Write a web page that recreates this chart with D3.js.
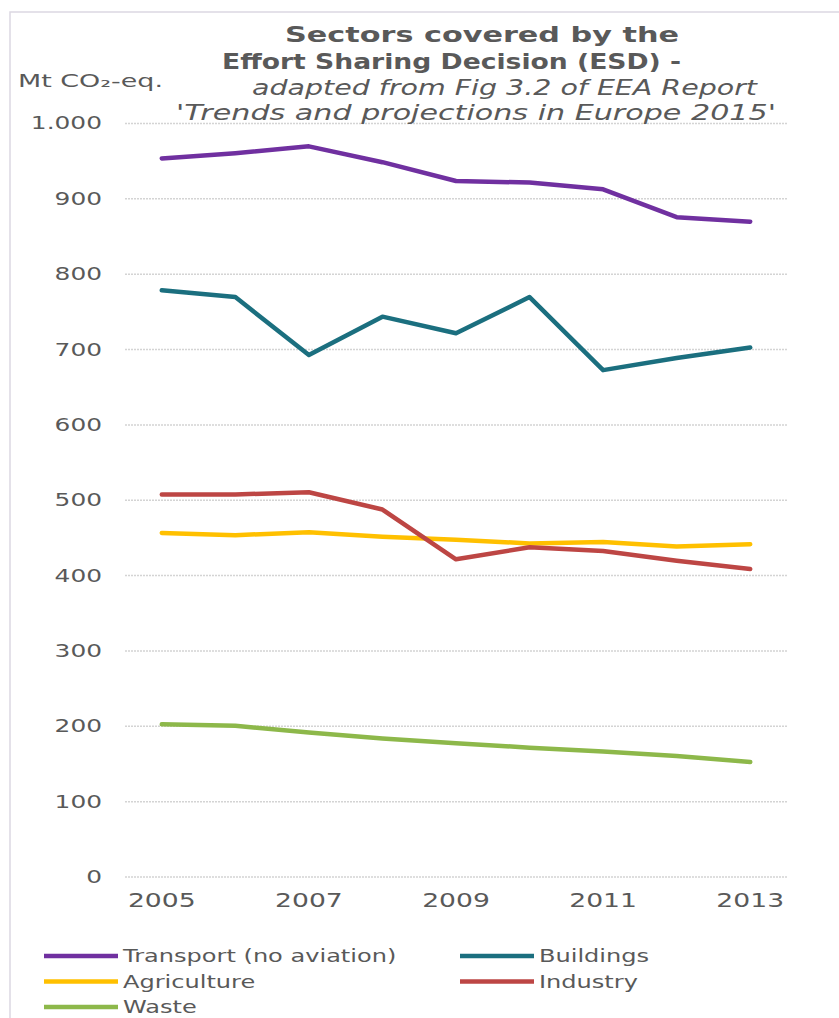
<!DOCTYPE html>
<html>
<head>
<meta charset="utf-8">
<script src="https://cdn.jsdelivr.net/npm/d3@7"></script>
<style>
  body { margin: 0; background: #fff; }
  text { font-family: "DejaVu Sans", Verdana, sans-serif; fill: #595959; }
</style>
</head>
<body>
<svg id="chart" width="839" height="1018"></svg>
<script>
// values, Mt CO2-eq.
const years = [2005, 2006, 2007, 2008, 2009, 2010, 2011, 2012, 2013];
const transport   = [953, 960, 969, 948, 923, 921, 912, 875, 869];
const buildings   = [778, 769, 692, 743, 721, 769, 672, 688, 702];
const agriculture = [456, 453, 457, 451, 447, 442, 444, 438, 441];
const industry    = [507, 507, 510, 487, 421, 437, 432, 419, 408];
const waste       = [202, 200, 191, 183, 177, 171, 166, 160, 152];

const seriesNames  = ["Transport (no aviation)", "Buildings", "Agriculture", "Industry", "Waste"];
const seriesValues = [transport, buildings, agriculture, industry, waste];
const seriesColors = ["#7030a0", "#1b6f7f", "#ffc000", "#bd4644", "#8db84a"];

const yTicks = [0, 100, 200, 300, 400, 500, 600, 700, 800, 900, 1000];
const xLabelYears = [2005, 2007, 2009, 2011, 2013];

const titleLines = [
  "Sectors covered by the",
  "Effort Sharing Decision (ESD) -",
  "adapted from Fig 3.2 of EEA Report",
  "'Trends and projections in Europe 2015'"
];
// where each title line sits in the (wide) source picture: start x, width, baseline
const titleLayout = [
  { x: 285, w: 394, y: 42, bold: true },
  { x: 222, w: 459, y: 69, bold: true },
  { x: 252, w: 505, y: 95, italic: true },
  { x: 176, w: 600, y: 120, italic: true }
];

const svg = d3.select("#chart");

// stretch text horizontally, keeping it real text
function widen(sel, k) {
  sel.each(function() {
    const w = this.getComputedTextLength();
    d3.select(this).attr("textLength", w * k).attr("lengthAdjust", "spacingAndGlyphs");
  });
}

svg.append("rect")
  .attr("x", 10).attr("y", 12).attr("width", 900).attr("height", 1100)
  .attr("fill", "none").attr("stroke", "#dcd8e2").attr("stroke-width", 1.5);

const x = d3.scalePoint().domain(years).range([125, 787]).padding(0.5);
const y = d3.scaleLinear().domain([0, 1000]).range([876.5, 123]);

const fmt = d3.formatLocale({ decimal: ",", thousands: ".", grouping: [3], currency: ["", ""] }).format(",");

// gridlines
const grid = svg.append("g").attr("transform", "translate(125,0)")
  .call(d3.axisLeft(y).tickValues(yTicks).tickSize(-662).tickFormat(""));
grid.select(".domain").remove();
grid.selectAll(".tick line")
  .attr("stroke", "#d4d4d4").attr("stroke-width", 1.5).attr("stroke-dasharray", "2,1");

// y labels
svg.append("g").selectAll("text")
  .data(yTicks).join("text")
  .attr("x", 102).attr("y", d => y(d)).attr("dy", "0.36em")
  .attr("text-anchor", "end").attr("font-size", 18)
  .text(d => fmt(d))
  .call(widen, 1.38);

// x labels
svg.append("g").selectAll("text")
  .data(xLabelYears).join("text")
  .attr("x", d => x(d)).attr("y", 907)
  .attr("text-anchor", "middle").attr("font-size", 20)
  .text(d => d)
  .call(widen, 1.33);

// unit label
svg.append("text").attr("x", 18).attr("y", 87).attr("font-size", 17)
  .attr("textLength", 145).attr("lengthAdjust", "spacingAndGlyphs")
  .text("Mt CO₂-eq.");

// title
svg.append("g").selectAll("text")
  .data(titleLines).join("text")
  .attr("x", (d, i) => titleLayout[i].x)
  .attr("y", (d, i) => titleLayout[i].y)
  .attr("font-size", 21)
  .attr("font-weight", (d, i) => titleLayout[i].bold ? "bold" : null)
  .attr("font-style", (d, i) => titleLayout[i].italic ? "italic" : null)
  .attr("textLength", (d, i) => titleLayout[i].w)
  .attr("lengthAdjust", "spacingAndGlyphs")
  .text(d => d);

// series lines
const line = d3.line().x((d, i) => x(years[i])).y(d => y(d));
svg.append("g").selectAll("path")
  .data(seriesValues).join("path")
  .attr("d", line)
  .attr("fill", "none")
  .attr("stroke", (d, i) => seriesColors[i])
  .attr("stroke-width", 4.5)
  .attr("stroke-linejoin", "round")
  .attr("stroke-linecap", "round");

// legend
const legend = svg.append("g").selectAll("g")
  .data(seriesNames).join("g")
  .attr("transform", (d, i) => `translate(${i % 2 ? 460 : 44},${956 + Math.floor(i / 2) * 25.5})`);
legend.append("line")
  .attr("x1", 0).attr("x2", 74).attr("y1", 0).attr("y2", 0)
  .attr("stroke", (d, i) => seriesColors[i]).attr("stroke-width", 4.5);
legend.append("text")
  .attr("x", 79).attr("dy", "0.33em").attr("font-size", 18.5)
  .text(d => d)
  .call(widen, 1.3);
</script>
</body>
</html>
